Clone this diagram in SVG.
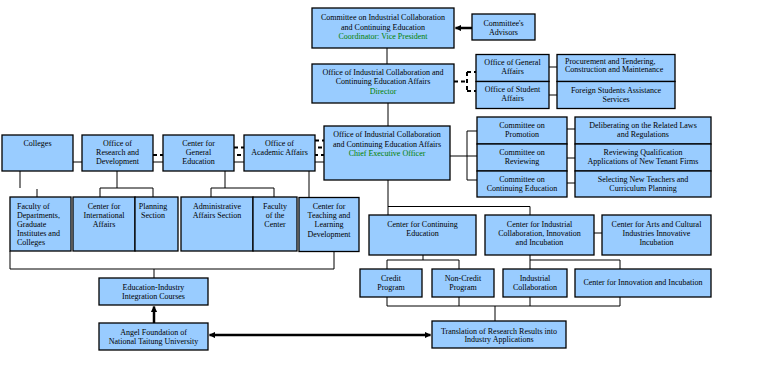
<svg xmlns="http://www.w3.org/2000/svg" width="761" height="378" viewBox="0 0 761 378">
<defs>
<style>
.b{fill:#99ccff;stroke:#000;stroke-width:1.3}
.t{font-family:"Liberation Serif","Times New Roman",serif;font-size:8px;fill:#000;text-anchor:middle}
.l{text-anchor:start}
.g{fill:#008000}
.c{fill:none;stroke:#000;stroke-width:1}
.d{fill:none;stroke:#000;stroke-width:2;stroke-dasharray:4 3}
.a{fill:none;stroke:#000;stroke-width:2.5}
</style>
<marker id="ah" viewBox="0 0 10 10" refX="9" refY="5" markerWidth="2.6" markerHeight="2.6" orient="auto-start-reverse" markerUnits="strokeWidth">
<path d="M0,0 L10,5 L0,10 Z" fill="#000"/>
</marker>
</defs>
<rect width="761" height="378" fill="#fff"/>

<g id="connectors">
<path class="c" d="M73,162 H324"/>
<path class="d" d="M153,155 H324"/>
<path class="d" d="M234,147.5 H324"/>
<path class="d" d="M315,140.5 H324"/>
<path class="a" d="M472,28 H455.5" marker-end="url(#ah)"/>
<path class="c" d="M387,48 V64"/>
<path class="d" d="M454,81.5 H467 M467,72 V91 M467,72 H476 M467,91 H476" stroke-dasharray="3 2"/>
<path class="c" d="M549,67 H557 M549,95 H557"/>
<path class="c" d="M388,103 V126"/>
<path class="c" d="M450,156 H477 M467,131 V180 M467,131 H477 M467,180 H477"/>
<path class="c" d="M567,129 H575 M567,158 H575 M567,183 H575"/>
<path class="c" d="M388,180 V215 M388,206.5 H530 V215"/>
<path class="c" d="M594,233 H602"/>
<path class="c" d="M423,255 V260 M387,260 H459 M387,260 V269 M459,260 V269"/>
<path class="c" d="M530,255 V269 M530,260 H620 V269"/>
<path class="c" d="M387,297 V306 M459,297 V306 M530,297 V306 M620,297 V306 M387,306 H620 M495,306 V321"/>
<path class="a" d="M209.5,335 H430.5" marker-start="url(#ah)" marker-end="url(#ah)"/>
<path class="a" d="M154,323 V306.5" marker-end="url(#ah)"/>
<path class="c" d="M20,171 V188 M37,189 V197"/>
<path class="c" d="M117,171 V188 M100,188 H153 M100,188 V197 M153,188 V197"/>
<path class="c" d="M225,171 V188 M211,188 H274 M211,188 V197 M274,188 V197"/>
<path class="c" d="M309,171 V197"/>
<path class="c" d="M10,251 V269 M334,252 V269 M10,269 H334 M154,269 V278"/>
</g>

<g id="committee">
<rect class="b" x="312" y="8" width="142" height="40"/>
<text class="t" x="383" y="20">Committee on Industrial Collaboration</text>
<text class="t" x="383" y="29.5">and Continuing Education</text>
<text class="t g" x="383" y="39">Coordinator: Vice President</text>
</g>
<g id="advisors">
<rect class="b" x="472" y="14" width="63" height="26"/>
<text class="t" x="503.5" y="25.5">Committee's</text>
<text class="t" x="503.5" y="35">Advisors</text>
</g>
<g id="director">
<rect class="b" x="312" y="64" width="142" height="39"/>
<text class="t" x="383" y="75">Office of Industrial Collaboration and</text>
<text class="t" x="383" y="84">Continuing Education Affairs</text>
<text class="t g" x="383" y="93.5">Director</text>
</g>
<g id="general-affairs">
<rect class="b" x="476" y="54.5" width="73" height="27"/>
<text class="t" x="512.5" y="65">Office of General</text>
<text class="t" x="512.5" y="74">Affairs</text>
</g>
<g id="student-affairs">
<rect class="b" x="476" y="81.5" width="73" height="27"/>
<text class="t" x="512.5" y="92">Office of Student</text>
<text class="t" x="512.5" y="101">Affairs</text>
</g>
<g id="procurement">
<rect class="b" x="557" y="54.5" width="118" height="27"/>
<text class="t l" x="565" y="64">Procurement and Tendering,</text>
<text class="t l" x="565" y="72">Construction and Maintenance</text>
</g>
<g id="foreign-students">
<rect class="b" x="557" y="81.5" width="118" height="27"/>
<text class="t" x="616" y="93">Foreign Students Assistance</text>
<text class="t" x="616" y="102">Services</text>
</g>

<g id="colleges">
<rect class="b" x="2" y="135" width="71" height="36"/>
<text class="t" x="37.5" y="146">Colleges</text>
</g>
<g id="rd">
<rect class="b" x="82" y="135" width="71" height="36"/>
<text class="t" x="117.5" y="146">Office of</text>
<text class="t" x="117.5" y="155">Research and</text>
<text class="t" x="117.5" y="164">Development</text>
</g>
<g id="cge">
<rect class="b" x="163" y="135" width="71" height="36"/>
<text class="t" x="198.5" y="146">Center for</text>
<text class="t" x="198.5" y="155">General</text>
<text class="t" x="198.5" y="164">Education</text>
</g>
<g id="academic">
<rect class="b" x="244" y="135" width="71" height="36"/>
<text class="t" x="279.5" y="146">Office of</text>
<text class="t" x="279.5" y="155">Academic Affairs</text>
</g>
<g id="ceo">
<rect class="b" x="324" y="126" width="126" height="54"/>
<text class="t" x="387" y="137">Office of Industrial Collaboration</text>
<text class="t" x="387" y="146.5">and Continuing Education Affairs</text>
<text class="t g" x="387" y="156">Chief Executive Officer</text>
</g>
<g id="promotion">
<rect class="b" x="477" y="117" width="90" height="27"/>
<text class="t" x="522" y="128">Committee on</text>
<text class="t" x="522" y="137">Promotion</text>
</g>
<g id="reviewing">
<rect class="b" x="477" y="144" width="90" height="27"/>
<text class="t" x="522" y="155">Committee on</text>
<text class="t" x="522" y="164">Reviewing</text>
</g>
<g id="continuing-committee">
<rect class="b" x="477" y="171" width="90" height="26"/>
<text class="t" x="522" y="182">Committee on</text>
<text class="t" x="522" y="191">Continuing Education</text>
</g>
<g id="laws">
<rect class="b" x="575" y="117" width="136" height="27"/>
<text class="t" x="643" y="128">Deliberating on the Related Laws</text>
<text class="t" x="643" y="137">and Regulations</text>
</g>
<g id="tenant">
<rect class="b" x="575" y="144" width="136" height="27"/>
<text class="t" x="643" y="155">Reviewing Qualification</text>
<text class="t" x="643" y="164">Applications of New Tenant Firms</text>
</g>
<g id="teachers">
<rect class="b" x="575" y="171" width="136" height="26"/>
<text class="t" x="643" y="182">Selecting New Teachers and</text>
<text class="t" x="643" y="191">Curriculum Planning</text>
</g>

<g id="faculty-departments">
<rect class="b" x="10" y="197" width="61" height="54"/>
<text class="t l" x="17" y="209">Faculty of</text>
<text class="t l" x="17" y="218">Departments,</text>
<text class="t l" x="17" y="227">Graduate</text>
<text class="t l" x="17" y="236">Institutes and</text>
<text class="t l" x="17" y="245">Colleges</text>
</g>
<g id="international">
<rect class="b" x="73" y="197" width="62" height="54"/>
<text class="t" x="104" y="209">Center for</text>
<text class="t" x="104" y="218">International</text>
<text class="t" x="104" y="227">Affairs</text>
</g>
<g id="planning">
<rect class="b" x="135" y="197" width="43" height="54"/>
<text class="t" x="153" y="209">Planning</text>
<text class="t" x="153" y="218">Section</text>
</g>
<g id="administrative">
<rect class="b" x="181" y="197" width="72" height="54"/>
<text class="t" x="217" y="209">Administrative</text>
<text class="t" x="217" y="218">Affairs Section</text>
</g>
<g id="faculty-center">
<rect class="b" x="253" y="197" width="44" height="54"/>
<text class="t" x="275" y="209">Faculty</text>
<text class="t" x="275" y="218">of the</text>
<text class="t" x="275" y="227">Center</text>
</g>
<g id="teaching">
<rect class="b" x="299" y="197.5" width="60" height="54"/>
<text class="t" x="329" y="209">Center for</text>
<text class="t" x="329" y="218">Teaching and</text>
<text class="t" x="329" y="227">Learning</text>
<text class="t" x="329" y="237">Development</text>
</g>

<g id="continuing-center">
<rect class="b" x="369" y="215" width="107" height="40"/>
<text class="t" x="422.5" y="227">Center for Continuing</text>
<text class="t" x="422.5" y="236">Education</text>
</g>
<g id="industrial-center">
<rect class="b" x="485" y="215" width="109" height="40"/>
<text class="t" x="539.5" y="227">Center for Industrial</text>
<text class="t" x="539.5" y="236">Collaboration, Innovation</text>
<text class="t" x="539.5" y="245">and Incubation</text>
</g>
<g id="arts-center">
<rect class="b" x="602" y="215" width="109" height="40"/>
<text class="t" x="656.5" y="227">Center for Arts and Cultural</text>
<text class="t" x="656.5" y="236">Industries Innovative</text>
<text class="t" x="656.5" y="245">Incubation</text>
</g>
<g id="credit">
<rect class="b" x="360" y="269" width="62" height="28"/>
<text class="t" x="391" y="281">Credit</text>
<text class="t" x="391" y="290">Program</text>
</g>
<g id="non-credit">
<rect class="b" x="432" y="269" width="62" height="28"/>
<text class="t" x="463" y="281">Non-Credit</text>
<text class="t" x="463" y="290">Program</text>
</g>
<g id="industrial-collab">
<rect class="b" x="503" y="269" width="64" height="28"/>
<text class="t" x="535" y="281">Industrial</text>
<text class="t" x="535" y="290">Collaboration</text>
</g>
<g id="innovation">
<rect class="b" x="575" y="269" width="136" height="28"/>
<text class="t" x="643" y="285">Center for Innovation and Incubation</text>
</g>
<g id="translation">
<rect class="b" x="432" y="321" width="134" height="27"/>
<text class="t" x="499" y="333.5">Translation of Research Results into</text>
<text class="t" x="499" y="342">Industry Applications</text>
</g>
<g id="education-industry">
<rect class="b" x="99" y="278" width="109" height="27"/>
<text class="t" x="153.5" y="290">Education-Industry</text>
<text class="t" x="153.5" y="299">Integration Courses</text>
</g>
<g id="angel">
<rect class="b" x="99" y="323" width="109" height="27"/>
<text class="t" x="153.5" y="335">Angel Foundation of</text>
<text class="t" x="153.5" y="344">National Taitung University</text>
</g>
</svg>
